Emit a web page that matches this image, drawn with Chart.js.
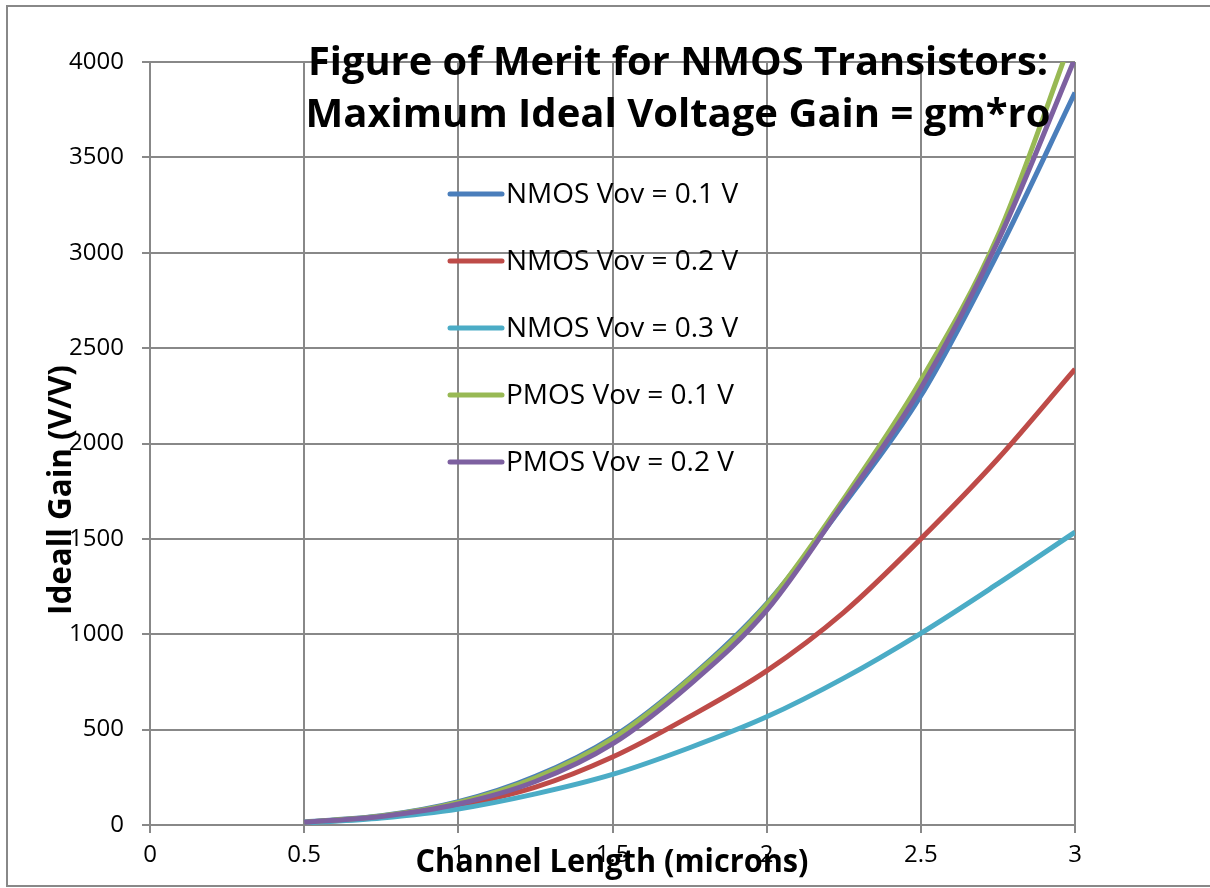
<!DOCTYPE html>
<html>
<head>
<meta charset="utf-8">
<script src="https://cdn.jsdelivr.net/npm/chart.js@4.4.1/dist/chart.umd.min.js"></script>
<style>
  body { margin: 0; background: #fff; }
</style>
</head>
<body>
<canvas id="graficoGanancia" width="1210" height="888"></canvas>
<script>
// longitud de canal (micras)
const longitudes = [0.5, 0.75, 1, 1.25, 1.5, 1.75, 2, 2.25, 2.5, 2.75, 3]

// ganancia ideal gm*ro (V/V)
const nmos01 = [16, 48, 122, 255, 460, 770, 1160, 1680, 2250, 3000, 3840]
const nmos02 = [12, 42, 101, 198, 356, 568, 808, 1115, 1500, 1920, 2390]
const nmos03 = [10, 37, 84, 163, 265, 405, 567, 770, 1005, 1265, 1535]
const pmos01 = [15, 47, 118, 248, 452, 765, 1155, 1710, 2330, 3090, 4170]
const pmos02 = [14, 45, 110, 228, 425, 735, 1125, 1690, 2290, 3060, 4020]

const etiquetas = ["NMOS Vov = 0.1 V", "NMOS Vov = 0.2 V", "NMOS Vov = 0.3 V", "PMOS Vov = 0.1 V", "PMOS Vov = 0.2 V"]
const series = [nmos01, nmos02, nmos03, pmos01, pmos02]
const colores = ["#4A7EBB", "#BE4B48", "#4BACC6", "#98B954", "#7D60A0"]

const ticksX = [0, 0.5, 1, 1.5, 2, 2.5, 3]
const ticksY = [0, 500, 1000, 1500, 2000, 2500, 3000, 3500, 4000]

const titulo = ["Figure of Merit for NMOS Transistors:", "Maximum Ideal Voltage Gain = gm*ro"]
const tituloX = "Channel Length (microns)"
const tituloY = "Ideall Gain (V/V)"

const gris = "#888888"
const fuente = "'Open Sans', 'Noto Sans', sans-serif"

// texto en negrita ajustado a un ancho dado
function textoAjustado(ctx, texto, x, y, tam, ancho) {
  ctx.font = "bold " + tam + "px " + fuente
  const w = ctx.measureText(texto).width
  ctx.save()
  ctx.translate(x, y)
  ctx.scale(ancho / w, 1)
  ctx.textAlign = "center"
  ctx.fillText(texto, 0, 0)
  ctx.restore()
}

const decoracion = {
  id: "decoracion",
  afterDraw: (chart) => {
    const ctx = chart.ctx
    ctx.save()

    // marco exterior
    ctx.strokeStyle = gris
    ctx.lineWidth = 2
    ctx.strokeRect(7, 6, 1230, 880)

    ctx.fillStyle = "#000"
    ctx.textBaseline = "alphabetic"

    // titulo sobre el area del grafico
    textoAjustado(ctx, titulo[0], 678, 75, 40, 740)
    textoAjustado(ctx, titulo[1], 678, 127, 40, 745)

    // titulo eje x
    textoAjustado(ctx, tituloX, 612, 872, 33, 393)

    // titulo eje y
    ctx.save()
    ctx.translate(71, 490)
    ctx.rotate(-Math.PI / 2)
    textoAjustado(ctx, tituloY, 0, 0, 33, 250)
    ctx.restore()

    // leyenda
    ctx.font = "28px " + fuente
    ctx.textBaseline = "middle"
    ctx.textAlign = "left"
    ctx.lineCap = "round"
    chart.data.datasets.forEach((ds, i) => {
      const y = 194 + i * 67
      ctx.strokeStyle = ds.borderColor
      ctx.lineWidth = 5
      ctx.beginPath()
      ctx.moveTo(450, y)
      ctx.lineTo(502, y)
      ctx.stroke()
      ctx.fillStyle = "#000"
      ctx.fillText(ds.label, 506, y + 1)
    })

    ctx.restore()
  },
}

const lienzo = document.getElementById("graficoGanancia")

new Chart(lienzo, {
  type: "line",
  data: {
    datasets: series.map((valores, i) => ({
      label: etiquetas[i],
      data: longitudes.map((l, j) => ({ x: l, y: valores[j] })),
      borderColor: colores[i],
      backgroundColor: colores[i],
      borderWidth: 5,
      pointRadius: 0,
      fill: false,
      cubicInterpolationMode: "monotone",
      order: series.length - i,
    })),
  },
  options: {
    responsive: false,
    animation: false,
    events: [],
    layout: {
      padding: { top: 62, right: 135, left: 0, bottom: 0 },
    },
    plugins: {
      legend: { display: false },
      title: { display: false },
      tooltip: { enabled: false },
    },
    scales: {
      x: {
        type: "linear",
        min: 0,
        max: 3,
        afterBuildTicks: (escala) => {
          escala.ticks = ticksX.map((v) => ({ value: v }))
        },
        afterFit: (escala) => {
          escala.height = 63
        },
        grid: { color: gris, lineWidth: 2, tickLength: 8 },
        border: { color: gris, width: 2 },
        ticks: {
          color: "#000",
          font: { family: fuente, size: 24 },
          padding: 8,
          maxRotation: 0,
          callback: (v) => String(v),
        },
      },
      y: {
        type: "linear",
        min: 0,
        max: 4000,
        afterBuildTicks: (escala) => {
          escala.ticks = ticksY.map((v) => ({ value: v }))
        },
        afterFit: (escala) => {
          escala.width = 150
        },
        grid: { color: gris, lineWidth: 2, tickLength: 8 },
        border: { color: gris, width: 2 },
        ticks: {
          color: "#000",
          font: { family: fuente, size: 24 },
          padding: 18,
          callback: (v) => String(v),
        },
      },
    },
  },
  plugins: [decoracion],
})
</script>
</body>
</html>
